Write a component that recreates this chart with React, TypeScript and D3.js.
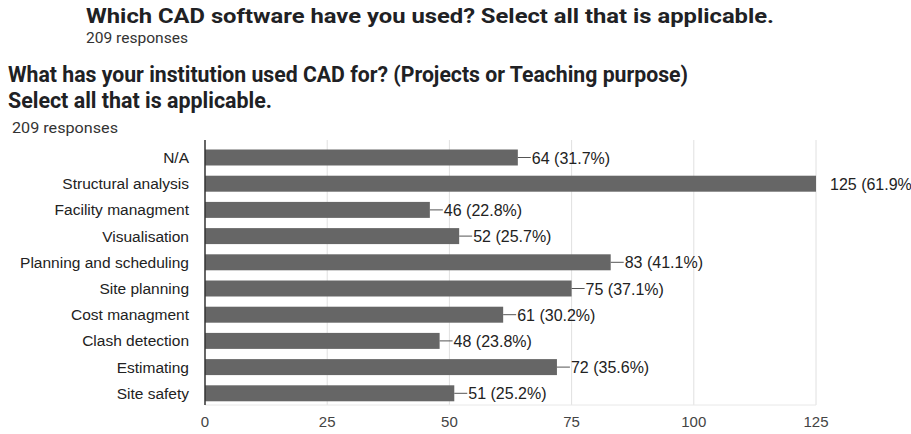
import React from 'react';
import { scaleLinear, scaleBand } from 'd3';

const categories = [
  'N/A',
  'Structural analysis',
  'Facility managment',
  'Visualisation',
  'Planning and scheduling',
  'Site planning',
  'Cost managment',
  'Clash detection',
  'Estimating',
  'Site safety',
];
const counts = [64, 125, 46, 52, 83, 75, 61, 48, 72, 51];
const percents = ['31.7%', '61.9%', '22.8%', '25.7%', '41.1%', '37.1%', '30.2%', '23.8%', '35.6%', '25.2%'];
const xTicks = [0, 25, 50, 75, 100, 125];

const width = 911;
const height = 434;
const margin = { top: 140, right: 95, bottom: 29, left: 205 };

export default function App() {
  const xScale = scaleLinear().domain([0, 125]).range([margin.left, width - margin.right]);
  const yScale = scaleBand<string>()
    .domain(categories)
    .range([144.4, 406.4])
    .paddingInner(0.39)
    .paddingOuter(0.195);
  const plotBottom = height - margin.bottom;
  const titleFont = 'Roboto, "Liberation Sans", sans-serif';
  const bodyFont = '"Liberation Sans", Arial, sans-serif';

  return (
    <svg
      width={width}
      height={height}
      style={{ position: 'absolute', left: 0, top: 0, background: '#fff' }}
    >
      {/* headers */}
      <text x={86} y={23} fontFamily={titleFont} fontWeight="bold" fontSize={21} fill="#202124"
        textLength={688} lengthAdjust="spacingAndGlyphs">
        Which CAD software have you used? Select all that is applicable.
      </text>
      <text x={86} y={43} fontFamily={titleFont} fontSize={14} fill="#333"
        textLength={102} lengthAdjust="spacingAndGlyphs">
        209 responses
      </text>
      <text x={8} y={82} fontFamily={titleFont} fontWeight="bold" fontSize={22} fill="#202124"
        textLength={680} lengthAdjust="spacingAndGlyphs">
        What has your institution used CAD for? (Projects or Teaching purpose)
      </text>
      <text x={8} y={108} fontFamily={titleFont} fontWeight="bold" fontSize={22} fill="#202124"
        textLength={264} lengthAdjust="spacingAndGlyphs">
        Select all that is applicable.
      </text>
      <text x={12} y={133} fontFamily={titleFont} fontSize={14} fill="#333"
        textLength={106} lengthAdjust="spacingAndGlyphs">
        209 responses
      </text>

      {/* grid */}
      {xTicks.map(t => (
        <g key={t}>
          {t > 0 && (
            <line x1={xScale(t)} x2={xScale(t)} y1={margin.top} y2={plotBottom} stroke="#e0e0e0" strokeWidth={1} />
          )}
          <text x={xScale(t)} y={427} textAnchor="middle" fontFamily={bodyFont} fontSize={15} fill="#444">
            {t}
          </text>
        </g>
      ))}
      <line x1={margin.left} x2={xScale(125)} y1={plotBottom} y2={plotBottom} stroke="#e8e8e8" />

      {/* bars */}
      {categories.map((c, i) => {
        const y = yScale(c) as number;
        const bw = yScale.bandwidth();
        const xEnd = xScale(counts[i]);
        const cy = y + bw / 2;
        const isMax = counts[i] === 125;
        return (
          <g key={c}>
            <text x={189} y={cy + 5.5} textAnchor="end" fontFamily={bodyFont} fontSize={15.5} fill="#222">
              {c}
            </text>
            <rect x={margin.left} y={y} width={xEnd - margin.left} height={bw} fill="#666" />
            {!isMax && <line x1={xEnd} x2={xEnd + 13} y1={cy} y2={cy} stroke="#555" strokeWidth={1} />}
            <text x={xEnd + 14} y={cy + 6} fontFamily={bodyFont} fontSize={16} fill="#222">
              {`${counts[i]} (${percents[i]})`}
            </text>
          </g>
        );
      })}

      {/* axis */}
      <line x1={margin.left} x2={margin.left} y1={margin.top} y2={plotBottom} stroke="#333" strokeWidth={1.5} />
    </svg>
  );
}
